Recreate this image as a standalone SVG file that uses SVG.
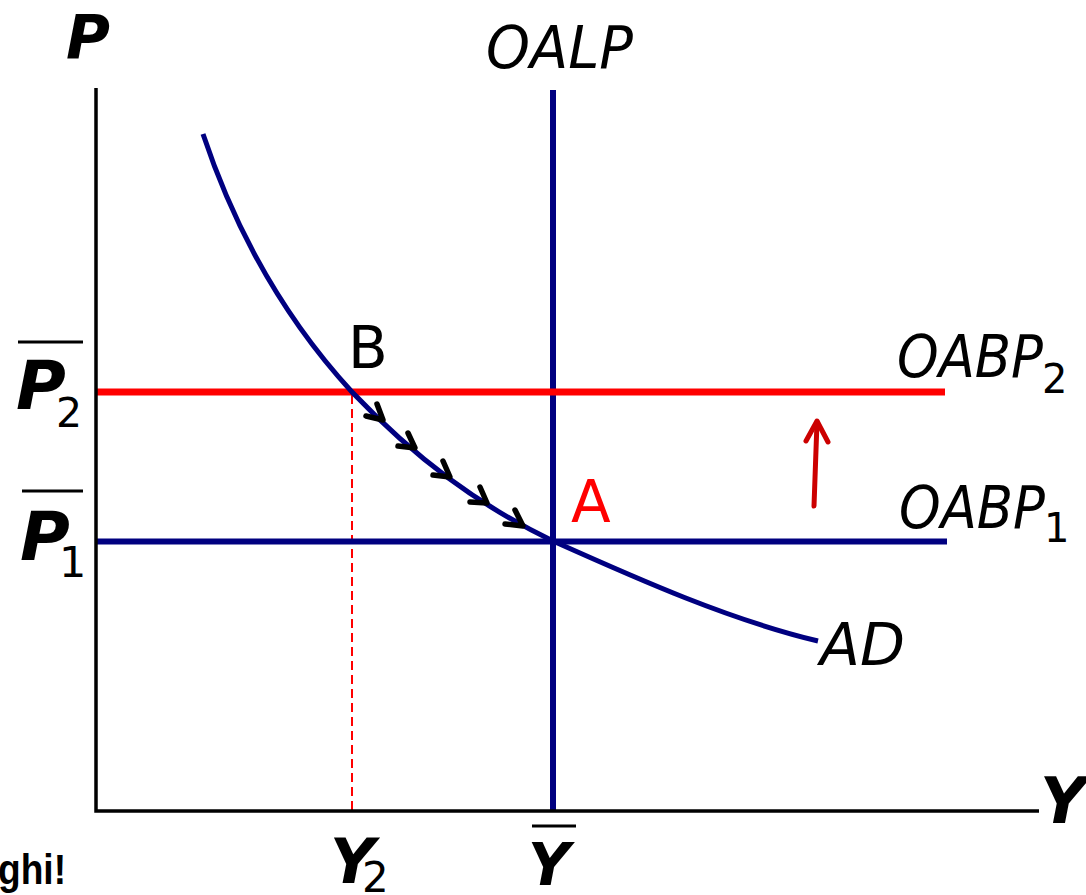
<svg xmlns="http://www.w3.org/2000/svg" width="1086" height="895" viewBox="0 0 1086 895">
<style>
text{font-family:"DejaVu Sans","Liberation Sans",sans-serif;fill:#000}
.bi{font-weight:bold;font-style:italic}
.it{font-style:italic}
.axis{stroke:#000;stroke-width:3.5;fill:none}
.navy{stroke:#000080;stroke-width:6;fill:none}
.red{stroke:#ff0000;stroke-width:7;fill:none}
.chev{stroke:#000;stroke-width:5.5;fill:none;stroke-linecap:round;stroke-linejoin:round}
.ov{stroke:#000;stroke-width:3}
</style>
<rect width="1086" height="895" fill="#fff"/>
<g id="connectors">
<path id="dash" d="M352,395 V810" stroke="#ff0000" stroke-width="2" stroke-dasharray="9,5" fill="none"/>
<path id="oalp-line" class="navy" d="M553,90 V810"/>
<path id="oabp1-line" class="navy" d="M96,541.5 H947"/>
<path id="oabp2-line" class="red" d="M96,392 H945"/>
<path id="ad-curve" d="M203,134 C240,245 295,330 352,392 C415,458 478,505 553,541 C640,580 730,620 818,641" stroke="#000080" stroke-width="5" fill="none"/>
<path id="axes" class="axis" d="M96,88 V811 H1039"/>
<g id="chevrons" class="chev">
<path d="M366,416 L383,420 L377,404"/>
<path d="M398,446 L415,448 L408,433"/>
<path d="M433,475 L450,477 L443,461"/>
<path d="M470,502 L487,503 L480,487"/>
<path d="M505,524 L523,526 L515,510"/>
</g>
<g id="shift-arrow" stroke="#cc0000" stroke-width="5" fill="none" stroke-linecap="round" stroke-linejoin="round">
<path d="M814,506 L817,422"/>
<path d="M806,441 L817,421 L828,442"/>
</g>
</g>
<g id="axis-p"><text class="bi" x="66" y="58" font-size="60">P</text></g>
<g id="axis-y"><text class="bi" x="1040" y="823" font-size="64">Y</text></g>
<g id="oalp"><text class="it" x="486" y="68" font-size="58" textLength="147" lengthAdjust="spacingAndGlyphs">OALP</text></g>
<g id="oabp2"><text class="it" x="897" y="377" font-size="58" textLength="146" lengthAdjust="spacingAndGlyphs">OABP</text><text x="1042" y="393" font-size="40">2</text></g>
<g id="oabp1"><text class="it" x="899" y="528" font-size="58" textLength="146" lengthAdjust="spacingAndGlyphs">OABP</text><text x="1044" y="542" font-size="40">1</text></g>
<g id="ad"><text class="it" x="820" y="665" font-size="58" textLength="85" lengthAdjust="spacingAndGlyphs">AD</text></g>
<g id="pointB"><text x="348" y="368" font-size="58">B</text></g>
<g id="pointA"><text x="571" y="522" font-size="58" style="fill:#ff0000">A</text></g>
<g id="p2-label"><line class="ov" x1="18" y1="342" x2="83" y2="342"/><text class="bi" x="16" y="409" font-size="68">P</text><text x="56" y="427" font-size="41">2</text></g>
<g id="p1-label"><line class="ov" x1="22" y1="491" x2="83" y2="491"/><text class="bi" x="20" y="560" font-size="68">P</text><text x="59" y="577" font-size="43">1</text></g>
<g id="y2-label"><text class="bi" x="330" y="883" font-size="62">Y</text><text x="362" y="892" font-size="42">2</text></g>
<g id="ybar-label"><line class="ov" x1="532" y1="826" x2="576" y2="826"/><text class="bi" x="528" y="885" font-size="58">Y</text></g>
<g id="ghi"><text x="66" y="884" font-size="42" font-weight="bold" text-anchor="end" style="font-family:'Liberation Sans',sans-serif" textLength="68" lengthAdjust="spacingAndGlyphs">ghi!</text></g>
</svg>
